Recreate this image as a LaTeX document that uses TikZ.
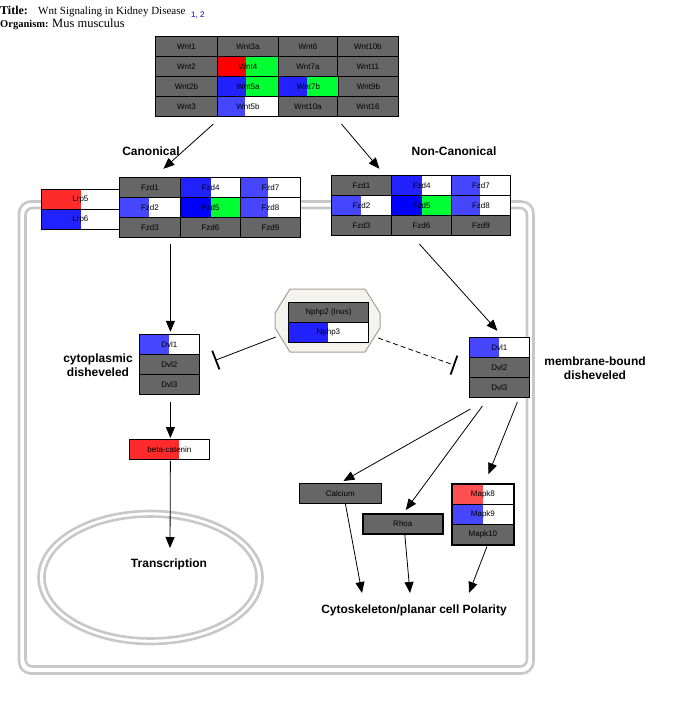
\documentclass[tikz,border=0pt]{standalone}
\usepackage{fontspec}
\setmainfont{Liberation Serif}
\setsansfont{Liberation Sans}
\usetikzlibrary{arrows.meta,calc,fit}
\definecolor{cgray}{RGB}{102,102,102}
\definecolor{cgreen}{RGB}{0,255,51}
\definecolor{cred}{RGB}{255,0,0}
\definecolor{cred2}{RGB}{255,42,42}
\definecolor{cred3}{RGB}{255,80,80}
\definecolor{cblue0}{RGB}{0,0,255}
\definecolor{cblue1}{RGB}{34,34,255}
\definecolor{cblue2}{RGB}{70,70,255}
\definecolor{memb}{RGB}{200,200,200}
\definecolor{octfill}{RGB}{244,244,236}
\definecolor{octdraw}{RGB}{160,160,160}
\definecolor{linkblue}{RGB}{0,0,200}
\tikzset{
  cell/.style={draw=black, line width=0.8pt, fill=cgray, minimum width=#1,
    minimum height=20pt, inner sep=0pt, anchor=north west,
    font=\sffamily\fontsize{8}{9}\selectfont},
  cell/.default=61pt,
  split/.style n args={3}{fill=#3, path picture={\fill[#1]
    (path picture bounding box.south west) rectangle
    ([xshift=#2]path picture bounding box.north west);}},
  grp/.style={inner sep=0pt},
  lbl/.style={font=\sffamily\bfseries\fontsize{12}{14}\selectfont, inner sep=0pt},
  arr/.style={-{Triangle[length=11pt,width=9pt]}, line width=0.8pt},
  inh/.style={-{Bar[width=20pt,line width=1.8pt]}, line width=0.8pt},
  membline/.style={draw=memb, line width=2.6pt},
}
\begin{document}
\begin{tikzpicture}[x=1pt,y=-1pt]
\useasboundingbox[fill=white] (0,0) rectangle (693,701);

% title
\node[anchor=base west, inner sep=0pt, font=\bfseries\fontsize{12}{13}\selectfont] (tl) at (0,15) {Title:};
\node[anchor=base west, inner sep=0pt, font=\fontsize{11}{13}\selectfont] (tt) at (38,15) {Wnt Signaling in Kidney Disease};
\node[anchor=base west, inner sep=0pt, font=\sffamily\fontsize{8}{9}\selectfont, text=linkblue] (tr) at (191,18) {1, 2};
\node[anchor=base west, inner sep=0pt, font=\bfseries\fontsize{10.5}{12}\selectfont] (ol) at (0,28) {Organism:};
\node[anchor=base west, inner sep=0pt, font=\fontsize{12.5}{14}\selectfont] (ot) at (52,28) {Mus musculus};

% cell membrane
\draw[membline, rounded corners=12pt] (19,201.5) rectangle (533.5,673.5);
\draw[membline, rounded corners=7pt] (25.5,208) rectangle (527,666.5);
% nucleus
\draw[membline] (150.5,577.5) ellipse [x radius=112, y radius=66.5];
\draw[membline] (150.5,577.5) ellipse [x radius=106, y radius=61];

% Wnt grid
\node[cell=62pt] (wnt1) at (155,36) {Wnt1};
\node[cell=61pt] (wnt3a) at (217,36) {Wnt3a};
\node[cell=59pt] (wnt6) at (278,36) {Wnt6};
\node[cell=61pt] (wnt10b) at (337,36) {Wnt10b};
\node[cell=62pt] (wnt2) at (155,56) {Wnt2};
\node[cell=61pt, split={cred}{29pt}{cgreen}] (wnt4) at (217,56) {Wnt4};
\node[cell=59pt] (wnt7a) at (278,56) {Wnt7a};
\node[cell=61pt] (wnt11) at (337,56) {Wnt11};
\node[cell=62pt] (wnt2b) at (155,76) {Wnt2b};
\node[cell=61pt, split={cblue1}{29pt}{cgreen}] (wnt5a) at (217,76) {Wnt5a};
\node[cell=60pt, split={cblue1}{29pt}{cgreen}] (wnt7b) at (278,76) {Wnt7b};
\node[cell=60pt] (wnt9b) at (338,76) {Wnt9b};
\node[cell=62pt] (wnt3) at (155,96) {Wnt3};
\node[cell=61pt, split={cblue2}{28pt}{white}] (wnt5b) at (217,96) {Wnt5b};
\node[cell=59pt] (wnt10a) at (278,96) {Wnt10a};
\node[cell=61pt] (wnt16) at (337,96) {Wnt16};
\node[grp, fit=(wnt1)(wnt16)] (wnt) {};

% Lrp
\node[cell=78pt, split={cred2}{40pt}{white}] (lrp5) at (41,189) {Lrp5};
\node[cell=78pt, split={cblue1}{40pt}{white}] (lrp6) at (41,209) {Lrp6};

% Fzd canonical
\node[cell=61pt] (fzd1c) at (119,177) {Fzd1};
\node[cell=60pt, split={cblue1}{30pt}{white}, line width=1.4pt] (fzd4c) at (180,177) {Fzd4};
\node[cell=60pt, split={cblue2}{28pt}{white}] (fzd7c) at (240,177) {Fzd7};
\node[cell=61pt, split={cblue2}{30pt}{white}] (fzd2c) at (119,197) {Fzd2};
\node[cell=60pt, split={cblue0}{30pt}{cgreen}, line width=1.4pt] (fzd5c) at (180,197) {Fzd5};
\node[cell=60pt, split={cblue2}{28pt}{white}] (fzd8c) at (240,197) {Fzd8};
\node[cell=61pt] (fzd3c) at (119,217) {Fzd3};
\node[cell=60pt] (fzd6c) at (180,217) {Fzd6};
\node[cell=60pt] (fzd9c) at (240,217) {Fzd9};
\node[grp, fit=(fzd1c)(fzd9c)] (fzdC) {};

% Fzd non-canonical
\node[cell=60pt] (fzd1n) at (331,175) {Fzd1};
\node[cell=60pt, split={cblue1}{30pt}{white}, line width=1.4pt] (fzd4n) at (391,175) {Fzd4};
\node[cell=59pt, split={cblue2}{29pt}{white}] (fzd7n) at (451,175) {Fzd7};
\node[cell=60pt, split={cblue2}{30pt}{white}] (fzd2n) at (331,195) {Fzd2};
\node[cell=60pt, split={cblue0}{30pt}{cgreen}, line width=1.4pt] (fzd5n) at (391,195) {Fzd5};
\node[cell=59pt, split={cblue2}{29pt}{white}] (fzd8n) at (451,195) {Fzd8};
\node[cell=60pt] (fzd3n) at (331,215) {Fzd3};
\node[cell=60pt] (fzd6n) at (391,215) {Fzd6};
\node[cell=59pt] (fzd9n) at (451,215) {Fzd9};
\node[grp, fit=(fzd1n)(fzd9n)] (fzdN) {};

% Nphp octagon
\filldraw[fill=octfill, draw=octdraw, line width=1pt]
  (290,289) -- (365,289) -- (380,313) -- (380,328) -- (365,352) -- (290,352) -- (275,328) -- (275,313) -- cycle;
\node[grp, fit={(275,289) (380,352)}] (oct) {};
\node[cell=80pt] (nphp2) at (288,302) {Nphp2 (Inus)};
\node[cell=80pt, split={cblue1}{40pt}{white}] (nphp3) at (288,322) {Nphp3};

% Dvl canonical
\node[cell=60pt, split={cblue2}{30pt}{white}] (dvl1c) at (139,334) {Dvl1};
\node[cell=60pt] (dvl2c) at (139,354) {Dvl2};
\node[cell=60pt] (dvl3c) at (139,374) {Dvl3};
\node[grp, fit=(dvl1c)(dvl3c)] (dvlC) {};

% Dvl membrane
\node[cell=60pt, split={cblue2}{30pt}{white}] (dvl1m) at (469,337) {Dvl1};
\node[cell=60pt] (dvl2m) at (469,357) {Dvl2};
\node[cell=60pt] (dvl3m) at (469,377) {Dvl3};
\node[grp, fit=(dvl1m)(dvl3m)] (dvlM) {};

% beta-catenin
\node[cell=80pt, split={cred2}{50pt}{white}] (bcat) at (129,439) {beta-catenin};

% Calcium, Rhoa, Mapk
\node[cell=82pt] (calcium) at (299,483) {Calcium};
\node[cell=80pt, line width=1.6pt] (rhoa) at (362,513) {Rhoa};
\node[cell=61pt, split={cred3}{31pt}{white}] (mapk8) at (452,484) {Mapk8};
\node[cell=61pt, split={cblue2}{31pt}{white}] (mapk9) at (452,504) {Mapk9};
\node[cell=61pt] (mapk10) at (452,524) {Mapk10};
\node[grp, fit=(mapk8)(mapk10), draw=black, line width=1.6pt] (mapk) {};

% labels
\node[lbl, anchor=base] (canon) at (151,155.5) {Canonical};
\node[lbl, anchor=base] (noncanon) at (454,155.5) {Non-Canonical};
\node[lbl, align=center] (cytodsh) at (98,365) {cytoplasmic\\disheveled};
\node[lbl, align=center] (membdsh) at (595,368) {membrane-bound\\disheveled};
\node[lbl, anchor=base] (trans) at (169,567.5) {Transcription};
\node[lbl, anchor=base] (cyto) at (414,613.5) {Cytoskeleton/planar cell Polarity};

% connectors
\draw[arr] ($(wnt.south)+(-63.5,7)$) -- ($(fzdC.north)+(-46.5,-8)$);
\draw[arr] ($(wnt.south)+(64.5,7)$) -- ($(fzdN.north)+(-41.5,-6)$);
\draw[arr] ($(fzdC.south)+(-39.5,6)$) -- ($(dvlC.north)+(1,-2)$);
\draw[arr] ($(fzdN.south)+(-1.5,8)$) -- ($(dvlM.north)+(-2,-6)$);
\draw[inh] ($(oct.west)+(1,16.5)$) -- ($(dvlC.east)+(15,-4)$);
\draw[inh, dashed, dash pattern=on 5pt off 3pt] ($(oct.east)+(-2,17.5)$) -- ($(dvlM.west)+(-14,-2)$);
\draw[arr] ($(dvlC.south)+(1,7)$) -- ($(bcat.north)+(1,-1)$);
\draw[arr] ($(bcat.south)+(1,1)$) -- ($(trans.base)+(1,-19.5)$);
\draw[arr] ($(dvlM.south)+(-29,11)$) -- ($(calcium.north)+(3,-2)$);
\draw[arr] ($(dvlM.south)+(-17,8)$) -- ($(rhoa.north)+(3,-3)$);
\draw[arr] ($(dvlM.south)+(18,4)$) -- ($(mapk.north)+(5.5,-9)$);
\draw[arr] ($(calcium.south)+(5,0)$) -- ($(cyto.base)+(-52,-20.5)$);
\draw[arr] ($(rhoa.south)+(2,0)$) -- ($(cyto.base)+(-4,-20.5)$);
\draw[arr] ($(mapk.south)+(4,1)$) -- ($(cyto.base)+(55,-20.5)$);
\end{tikzpicture}
\end{document}
